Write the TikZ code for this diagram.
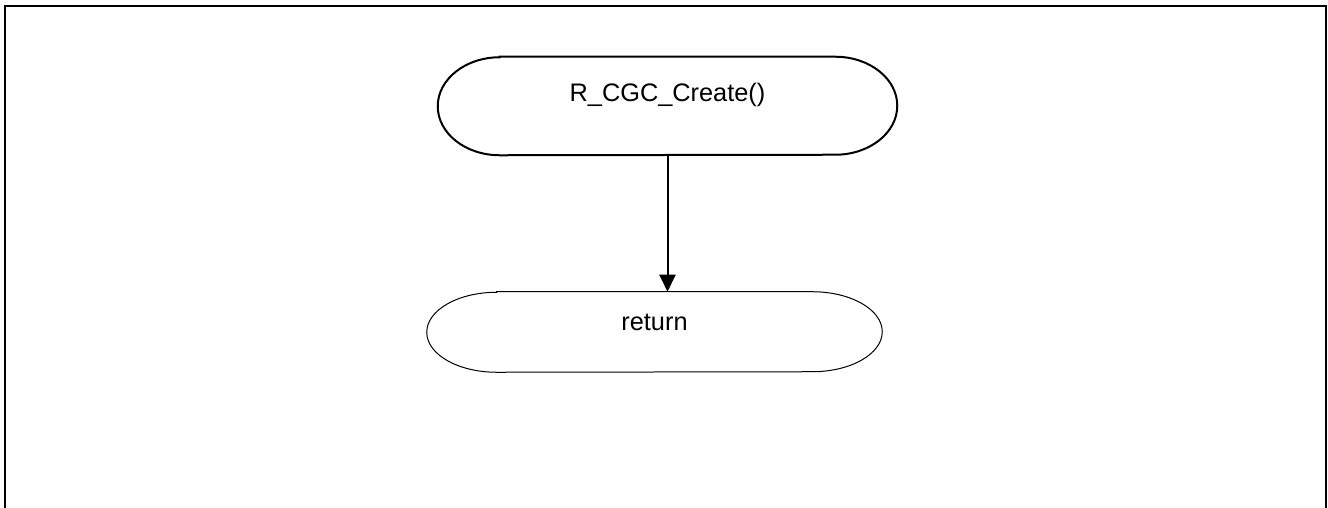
\documentclass[tikz,border=0pt]{standalone}
\usepackage{fontspec}
\setmainfont{Liberation Sans}
\usetikzlibrary{arrows.meta}
\begin{document}
\begin{tikzpicture}[x=.75pt,y=.75pt,
	term/.style={inner sep=0pt,font=\fontsize{19}{23}\selectfont}]
	\useasboundingbox (0,0) rectangle (1328,507);
	\draw[line width=1.5pt] (5,-2) |- (1326,501) -- (1326,-2);
	
	\node[term,minimum width=344.25pt,minimum height=73.5pt,text height=14pt,text depth=20pt] (create) at (667.5,401) {R\_CGC\_Create()};
	\draw[line width=1.5pt] ([xshift=46.5pt]create.north west) -- ([xshift=-46.5pt]create.north east)
		arc[start angle=90,end angle=-90,x radius=46.5pt,y radius=36.75pt]
		-- ([xshift=46.5pt]create.south west)
		arc[start angle=270,end angle=90,x radius=46.5pt,y radius=36.75pt] -- cycle;
	
	\node[term,minimum width=341.25pt,minimum height=60pt,text height=14pt,text depth=15.5pt] (ret) at (654.5,175) {return};
	\draw[line width=.75pt] ([xshift=52.5pt]ret.north west) -- ([xshift=-52.5pt]ret.north east)
		arc[start angle=90,end angle=-90,x radius=52.5pt,y radius=30pt]
		-- ([xshift=52.5pt]ret.south west)
		arc[start angle=270,end angle=90,x radius=52.5pt,y radius=30pt] -- cycle;
	
	\draw[line width=1.5pt,-{Triangle[width=12pt,length=12.75pt]}] (create.south) -- (create.south |- ret.north);
\end{tikzpicture}
\end{document}
